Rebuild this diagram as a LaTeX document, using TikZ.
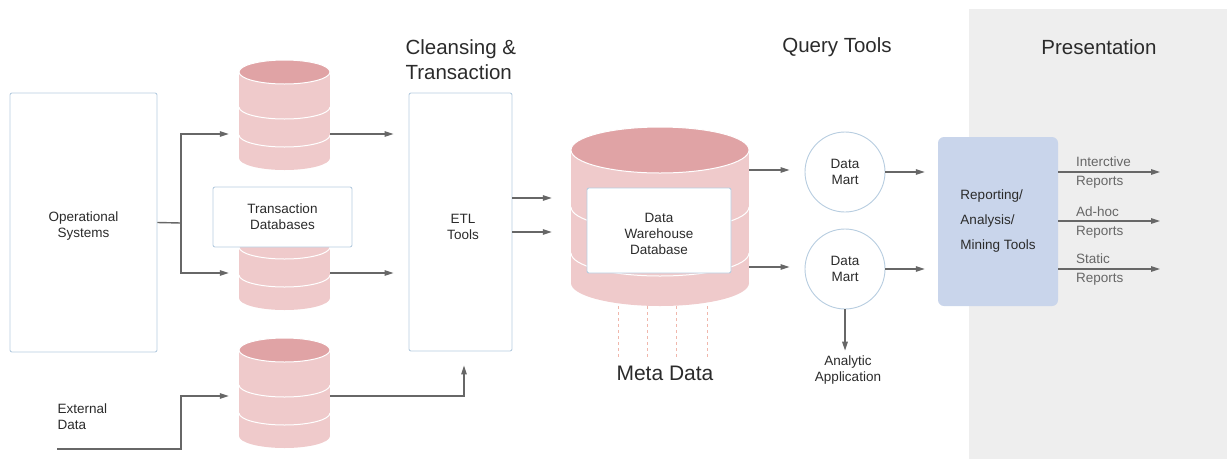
\documentclass[tikz,border=0pt]{standalone}
\usepackage{fontspec}
\setmainfont{Liberation Sans}
\usetikzlibrary{arrows.meta}

\definecolor{dbtop}{HTML}{E0A3A5}
\definecolor{dbbody}{HTML}{EFCACB}
\definecolor{boxline}{HTML}{B7CDE0}
\definecolor{repfill}{HTML}{C9D5EB}
\definecolor{panel}{HTML}{EEEEEE}
\definecolor{arrowgray}{HTML}{676767}
\definecolor{txt}{HTML}{2B2B2B}
\definecolor{metadash}{HTML}{F0B7AC}

\tikzset{
  txtbox/.style={draw=boxline, line width=0.9pt, rounded corners=2pt, fill=white, inner sep=0pt, align=center},
  mart/.style={circle, draw=boxline, line width=0.9pt, fill=white, minimum size=80pt, inner sep=0pt, align=center},
  arr/.style={draw=arrowgray, line width=1.4pt, -{Triangle[length=9pt,width=5.5pt]}},
  plain/.style={draw=arrowgray, line width=1.4pt},
  metaline/.style={draw=metadash, line width=0.9pt, dash pattern=on 3pt off 3pt},
  title/.style={font=\fontsize{20.5}{25}\selectfont, text=txt, align=left},
  lbl/.style={font=\fontsize{13.5}{16}\selectfont, text=txt, align=center},
  outlbl/.style={font=\fontsize{13.5}{16}\selectfont, text=arrowgray, inner sep=0pt, anchor=west}
}

\begin{document}
\begin{tikzpicture}[x=1pt, y=-1pt]
  \useasboundingbox (0,0) rectangle (1227,459);
  \fill[panel] (969,9) rectangle (1227,459);

  % small databases
  \foreach \i/\t in {1/60, 2/200, 3/338} {
    \fill[dbbody] (239,\t+12) rectangle (330,\t+98);
    \fill[dbbody] (284.5,\t+98) ellipse [x radius=45.5, y radius=12];
    \draw[white, line width=1pt] (239,\t+47) arc [start angle=180, end angle=0, x radius=45.5, y radius=12];
    \draw[white, line width=1pt] (239,\t+75) arc [start angle=180, end angle=0, x radius=45.5, y radius=12];
    \draw[white, fill=dbtop, line width=1pt] (284.5,\t+12) ellipse [x radius=45.5, y radius=12];
    \node[inner sep=0pt, minimum width=91pt, minimum height=110pt] (db\i) at (284.5,\t+55) {};
  }

  % warehouse cylinder
  \fill[dbbody] (571,150) rectangle (749,283);
  \fill[dbbody] (660,283) ellipse [x radius=89, y radius=23];
  \draw[white, line width=1pt] (571,207) arc [start angle=180, end angle=0, x radius=89, y radius=23];
  \draw[white, line width=1pt] (571,253) arc [start angle=180, end angle=0, x radius=89, y radius=23];
  \draw[white, fill=dbtop, line width=1pt] (660,150) ellipse [x radius=89, y radius=23];
  \node[inner sep=0pt, minimum width=178pt, minimum height=179pt] (dw) at (660,216.5) {};

  % titles
  \node[title, anchor=west] (clean) at (402,60) {Cleansing \&\\Transaction};
  \node[title] (query) at (837,47) {Query Tools};
  \node[title] (pres) at (1099,47) {Presentation};
  \node[title, font=\fontsize{21}{25}\selectfont] (meta) at (665,373) {Meta Data};

  % boxes
  \node[txtbox, minimum width=147pt, minimum height=259pt] (ops) at (83.5,222.5) {};
  \node[lbl] (opstxt) at (83.5,226) {Operational\\Systems};
  \node[txtbox, lbl, minimum width=139pt, minimum height=60pt] (trans) at (282.5,217) {Transaction\\Databases};
  \node[txtbox, minimum width=103pt, minimum height=258pt] (etl) at (460.5,222) {};
  \node[lbl] (etltxt) at (463,227) {ETL\\Tools};
  \node[txtbox, minimum width=144pt, minimum height=85pt] (dwbox) at (659,230.5) {};
  \node[lbl] (dwtxt) at (659,233.5) {Data\\Warehouse\\Database};
  \node[mart, lbl] (m1) at (845,172) {Data\\Mart};
  \node[mart, lbl] (m2) at (845,269) {Data\\Mart};
  \node[lbl] (ana) at (848,370.5) {Analytic\\Application};
  \node[lbl, anchor=west, align=left] (ext) at (54,416.5) {External\\Data};
  \node[draw=none, fill=repfill, rounded corners=6pt, minimum width=120pt, minimum height=169pt,
        font=\fontsize{13.5}{25}\selectfont, text=txt, align=left] (rep) at (998,221.5) {Reporting/\\Analysis/\\Mining Tools};

  % sources to staging
  \coordinate (split) at (181,223);
  \coordinate (extsrc) at (57,449);
  \coordinate (extsplit) at (181,396);
  \draw[plain] (ops.east) -- (split);
  \draw[arr, shorten >=10pt] (split) |- ([yshift=-19pt]db1.west);
  \draw[arr, shorten >=10pt] (split) |- ([yshift=-18pt]db2.west);
  \draw[arr, shorten >=10pt] (extsrc) -| (extsplit) -- (extsplit -| db3.west);
  \draw[arr, shorten >=15pt] ([yshift=-19pt]db1.east) -- ([yshift=-19pt]db1.east -| etl.west);
  \draw[arr, shorten >=15pt] ([yshift=-18pt]db2.east) -- ([yshift=-18pt]db2.east -| etl.west);
  \draw[arr, shorten >=14pt] ([yshift=-3pt]db3.east) -| ([xshift=3.5pt]etl.south);

  % into the warehouse
  \draw[arr, shorten >=19pt] ([yshift=24pt]etl.east) -- ([yshift=24pt]etl.east -| dw.west);
  \draw[arr, shorten >=19pt] ([yshift=-10pt]etl.east) -- ([yshift=-10pt]etl.east -| dw.west);
  \foreach \x in {618,647,676,707}
    \draw[metaline] (dw.south -| \x,0) -- ([yshift=3pt]meta.north -| \x,0);

  % query tools
  \draw[arr, shorten >=15pt] ([yshift=2pt]dw.east |- m1) -- ([yshift=2pt]m1.west);
  \draw[arr, shorten >=15pt] ([yshift=2pt]dw.east |- m2) -- ([yshift=2pt]m2.west);
  \draw[arr, shorten >=13pt] (m1.east) -- (m1.east -| rep.west);
  \draw[arr, shorten >=13pt] (m2.east) -- (m2.east -| rep.west);
  \draw[arr, shorten >=2pt] (m2.south) -- (m2.south |- ana.north);

  % presentation
  \coordinate (out1) at (1160,172);
  \coordinate (out2) at (1160,221);
  \coordinate (out3) at (1160,269);
  \draw[arr] (out1 -| rep.east) -- (out1);
  \draw[arr] (out2 -| rep.east) -- (out2);
  \draw[arr] (out3 -| rep.east) -- (out3);
  \node[outlbl] (o1a) at (1076,162) {Interctive};
  \node[outlbl] (o1b) at (1076,182) {Reports};
  \node[outlbl] (o2a) at (1076,212) {Ad-hoc};
  \node[outlbl] (o2b) at (1076,232) {Reports};
  \node[outlbl] (o3a) at (1076,259) {Static};
  \node[outlbl] (o3b) at (1076,279) {Reports};
\end{tikzpicture}
\end{document}
